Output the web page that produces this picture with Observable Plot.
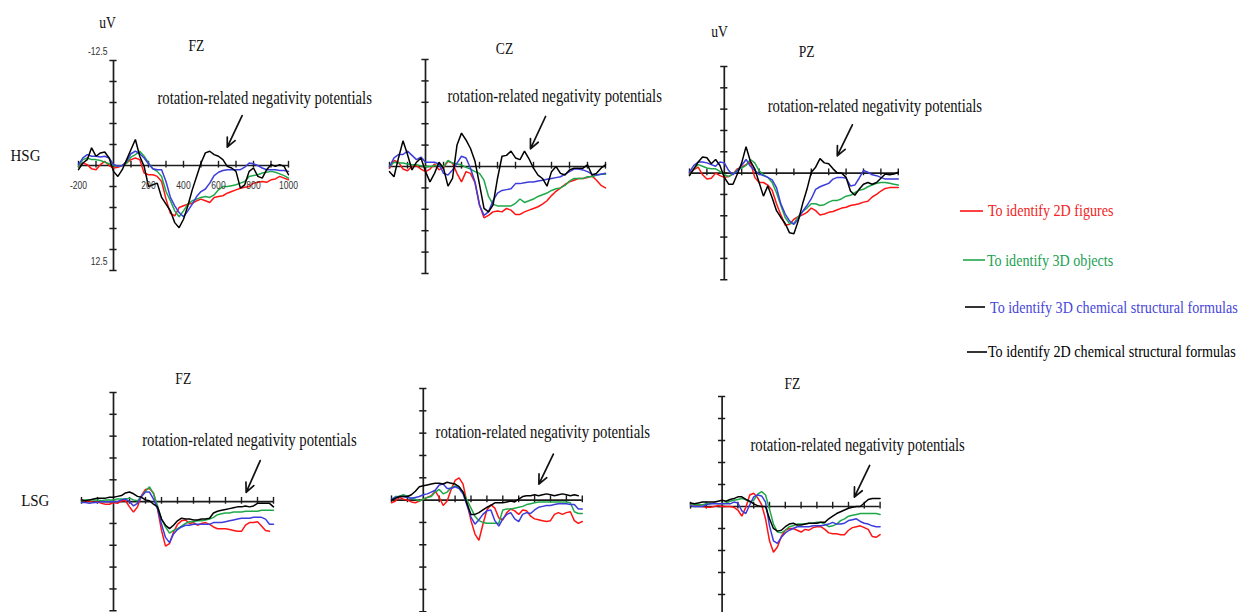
<!DOCTYPE html>
<html><head><meta charset="utf-8">
<script src="https://cdn.jsdelivr.net/npm/d3@7"></script>
<script src="https://cdn.jsdelivr.net/npm/@observablehq/plot@0.6"></script>
<style>
html,body{margin:0;padding:0;background:#fff;}
#chart{position:relative;width:1249px;height:612px;overflow:hidden;background:#fff;}
#chart svg{position:absolute;}
</style></head><body><div id="chart"></div>
<script>
// ---------- data ----------
const times = [-200,-175,-150,-125,-100,-75,-50,-25,0,25,50,75,100,125,150,175,200,225,250,275,300,325,350,375,400,425,450,475,500,525,550,575,600,625,650,675,700,725,750,775,800,825,850,875,900,925,950,975,1000];
const seriesNames = ["To identify 2D figures","To identify 3D objects","To identify 3D chemical structural formulas","To identify 2D chemical structural formulas"];
const seriesColors = ["#ff1414","#1fa84a","#3c3cdc","#000000"];
const legendLineColors = ["#ff1414","#1fa84a","#000000","#000000"];
const legendTextColors = ["#f02424","#22a052","#4646d8","#000000"];

// HSG FZ
const hsgFzRed   = [0.1,-0.3,-0.1,0.4,0.5,-0.1,-0.5,0, 0.3,0.2,0,-0.3,-0.7,-0.9,-0.7,0.9, 1.1,1.1,1.3,1.9,4.0,5.7,6.0,5.0, 4.8,4.6,4.5,4.2,4.0,4.2,4.4,3.8, 3.7,3.6,3.3,3.1,2.9,2.7,2.6,2.5, 2.1,2.0,1.9,2.0,1.7,1.6,1.3,1.5, 1.7];
const hsgFzGreen = [0.1,-0.7,-0.9,-0.7,-0.7,-0.6,-0.4,-0.2, 0,0.1,0,-0.3,-1.0,-1.3,-1.7,-1.1, -0.3,0.4,0.7,1.3,3.1,4.2,5.4,6.1, 5.4,4.6,4.2,4.0,3.8,3.7,3.8,3.5, 2.9,2.5,2.5,2.4,2.3,2.1,1.9,1.3, 1.2,1.1,0.9,0.8,0.7,0.8,1.0,1.2, 1.5];
const hsgFzBlue  = [-0.1,-0.9,-1.3,-1.1,-1.1,-1.0,-1.1,-0.9, -0.1,0.1,0,-0.5,-1.4,-1.7,-1.4,-0.9, -0.2,0.4,0.5,0.5,1.9,3.8,4.8,5.6, 6.1,5.4,4.6,3.7,3.1,2.8,2.1,1.2, 0.8,0.6,0.5,0.5,0.5,0.5,0.2,-0.3, -0.2,0,0.3,0.5,0.5,0.5,0.6,0.6, 0.7];
const hsgFzBlack = [0.5,-0.3,-0.7,-2.1,-1.1,-1.5,-1.6,-0.9, 0.7,1.3,0.5,-0.7,-1.9,-3.1,-1.1,0.1, 2.5,2.3,2.1,3.8,4.6,5.4,6.8,7.4, 6.4,4.8,2.9,1.3,-0.3,-1.5,-1.7,-1.3, -1.1,-0.7,0.1,0.3,0.7,2.7,2.3,0.7, 0.3,1.3,1.5,0.5,-0.1,0.1,-0.1,0.1, 1.1];
// HSG CZ
const hsgCzRed   = [0.2,-0.7,-0.5,0.3,0.5,0,-0.1,0.3, 0.6,0.3,-0.3,0.4,0.1,-0.6,-0.4,0.8, 1.8,0.6,0.8,1.9,4.5,6.0,5.7,5.3, 5.2,5.3,4.9,5.1,5.6,5.6,5.3,5.1, 4.9,4.7,4.4,4.0,3.4,2.9,2.5,2.1, 1.8,1.6,1.4,1.4,1.3,1.1,1.6,2.2, 2.5];
const hsgCzGreen = [0,-0.5,-0.4,-0.4,-0.3,-0.2,-0.2,-0.1, 0,0,-0.1,-0.2,0,-0.7,-0.4,-0.3, -0.2,0.1,0.3,0.6,0.8,1.6,3.5,4.4, 4.6,4.6,4.6,4.6,4.3,3.8,4.2,4.0, 3.8,3.5,3.3,3.1,2.8,2.6,2.5,2.2, 1.7,1.4,1.4,1.4,1.2,1.2,1.0,0.9, 0.9];
const hsgCzBlue  = [0,-1.0,-1.4,-1.4,-1.8,-1.3,-0.8,-1.1, -0.5,-0.5,-0.5,-0.3,0.8,1.0,0.4,-0.4, -1.2,-1.0,0.2,1.8,4.5,5.7,5.3,4.0, 3.1,2.8,2.7,2.6,2.0,2.0,1.9,1.8, 1.8,1.7,1.6,1.5,1.4,1.3,1.2,0.9, 0.6,0.3,0.3,0.4,0.6,0.9,1.0,0.9, 0.8];
const hsgCzBlack = [0.6,1.2,-1.0,-3.0,-1.4,0.4,-0.5,-1.0, 0.6,1.8,0.8,-0.5,0.2,2.3,1.4,-2.5, -3.9,-3.1,-2.1,-0.6,2.1,4.9,5.3,4.5, 1.4,-1.2,-1.3,-1.8,-1.0,-0.8,-1.8,-0.9, 0.2,1.0,1.4,2.3,0.6,0,0.8,1.0, 0.4,0.2,0.2,0.2,-0.2,1.0,0.8,0.2, -0.2];
// HSG PZ
const hsgPzRed   = [0,-0.4,-0.7,0.2,0.7,0.6,0,0.3, 0.5,0.4,0.1,-0.5,-0.7,-1.0,-1.3,0.5, 1.1,1.1,1.4,2.0,3.6,4.9,6.1,6.0, 5.4,5.1,4.9,4.6,4.1,4.4,4.9,4.8, 4.6,4.5,4.3,4.1,4.0,3.8,3.7,3.6, 3.4,3.3,2.8,2.5,2.1,1.8,1.7,1.7, 1.7];
const hsgPzGreen = [0.2,-0.5,-1.0,-0.8,-0.6,-0.5,-0.5,-0.2, 0.2,0.4,0.1,-0.4,-0.6,-0.9,-1.6,-1.2, -0.3,0.2,0.5,1.1,2.3,3.8,5.2,5.9, 5.9,5.1,4.5,4.1,3.6,3.6,3.8,3.7, 3.4,3.2,3.2,3.0,2.7,2.6,2.3,2.0, 1.9,1.6,1.4,1.2,1.1,1.1,1.2,1.3, 1.4];
const hsgPzBlue  = [-0.1,-0.9,-1.3,-1.3,-1.2,-1.0,-0.8,-1.3, -1.2,-0.3,0.2,-0.3,-0.9,-1.6,-0.8,-0.3, 0.1,0.3,0.5,0.8,1.7,3.6,4.8,5.6, 6.0,5.4,4.5,3.8,3.0,1.9,1.6,1.4, 1.2,0.7,0.5,0.5,0.6,1.5,1.4,0.6, -0.3,-0.1,0.2,0.3,0.5,0.7,0.7,0.7, 0.7];
const hsgPzBlack = [0.3,-0.5,-1.3,-1.9,-1.8,-1.1,-1.6,-0.9, 0.5,1.3,1.3,0.1,-1.2,-3.1,-1.4,-0.5, 1.1,2.7,1.5,2.9,4.4,5.2,5.9,7.0, 7.1,5.6,3.6,1.9,-0.1,-0.7,-1.7,-1.2, -1.1,-0.5,0,0,0.5,2.1,2.6,1.9, 1.3,1.1,1.3,1.1,0.6,0.1,0.2,0.1, -0.1];
// LSG left
const lsgFzRed   = [-0.2,0,-0.1,0.1,0,0.2,0.3,0.3, 0.1,0.2,-0.1,-0.1,0.6,1.2,0.6,-0.7, -1.4,-1.5,-1.0,0.8,3.3,5.1,4.8,3.5, 2.6,2.2,2.1,2.5,2.4,2.7,2.5,2.4, 2.6,2.9,3.1,3.1,3.1,3.2,3.3,3.4, 3.4,2.7,2.4,2.4,2.3,2.8,3.3,3.4, null];
const lsgFzGreen = [-0.1,-0.2,-0.2,-0.2,-0.2,-0.1,-0.2,-0.2, -0.2,-0.3,-0.3,-0.3,-0.4,-0.2,-0.1,-0.6, -1.2,-1.7,-0.9,0.5,2.0,2.9,3.6,3.3, 3.1,2.8,2.5,2.3,2.3,2.2,2.2,2.1, 2.0,1.8,1.5,1.4,1.3,1.3,1.2,1.2, 1.2,1.1,1.1,1.1,1.1,1.0,1.0,1.0, 1.0];
const lsgFzBlue  = [0.1,0.1,0.2,0.1,0.1,0,0,0, 0,0,-0.2,-0.3,0,0.5,0.2,-0.6, -1.1,-1.1,-0.3,0.8,2.6,4.1,4.7,3.7, 3.2,2.9,2.7,2.7,2.6,2.6,2.6,2.6, 2.6,2.4,2.4,2.4,2.3,2.2,2.1,2.0, 1.9,1.9,1.9,1.8,1.8,1.8,2.0,2.6, 2.6];
const lsgFzBlack = [-0.2,-0.1,-0.2,-0.3,-0.4,-0.4,-0.4,-0.5, -0.5,-0.6,-0.7,-1.0,-1.1,-0.9,-0.6,-0.5, -0.2,-0.1,0.3,0.6,2.0,2.7,3.1,2.7, 2.2,1.9,2.0,2.0,2.1,2.1,2.0,2.0, 1.9,1.3,1.1,1.0,0.9,0.8,0.7,0.6, 0.6,0.5,0.6,0.5,0.2,0.2,0.2,0.2, 0.6];
// LSG middle
const lsgCzRed   = [0.3,0.1,-0.3,-0.1,0,0.2,0.3,0.1, -0.1,-0.3,-0.5,-1.0,-0.3,0.6,0.1,-1.2, -2.2,-2.5,-1.8,0.3,2.3,3.8,4.5,2.7, 1.1,0.5,0.9,2.0,2.2,1.4,1.0,1.2, 1.6,1.1,1.2,1.8,2.1,2.2,2.3,2.4, 2.3,1.6,1.4,1.6,1.4,1.3,2.3,2.6, 2.4];
const lsgCzGreen = [0,-0.4,-0.4,-0.6,-0.4,-0.2,-0.1,0.1, -0.1,-0.3,-0.4,-0.9,-1.2,-0.7,-0.9,-1.4, -1.6,-1.4,-0.9,0,0.9,1.8,2.3,2.5, 2.6,2.6,2.6,2.6,1.1,1.0,1.0,0.9, 0.8,0.7,0.5,0.4,0.3,0.2,0.2,0.2, 0.2,0.2,0.2,0.2,0.2,0.3,1.3,1.5, 1.5];
const lsgCzBlue  = [-0.1,-0.3,-0.4,-0.4,-0.3,-0.2,-0.3,-0.4, -0.6,-0.7,-0.9,-1.1,-1.7,-1.8,-1.3,-1.3, -1.5,-1.3,-0.7,0.6,1.9,2.7,2.2,1.6, 1.2,1.1,2.3,2.9,2.1,1.6,1.4,2.1, 2.4,1.6,1.4,1.5,1.1,0.8,0.7,0.6, 0.6,0.5,0.4,0.4,0.4,0.5,0.5,1.0, 1.0];
const lsgCzBlack = [0,-0.2,-0.4,-0.4,-0.4,-0.6,-1.0,-1.5, -1.6,-1.7,-1.8,-1.9,-1.9,-1.8,-2.0,-1.9, -1.8,-1.5,-0.9,0.4,1.6,1.6,1.4,1.1, 0.8,0.6,0.3,0.3,0.3,0.2,0.1,0.2, -0.1,-0.4,-0.5,-0.5,-0.6,-0.5,-0.6,-0.7, -0.6,-0.5,-0.6,-0.7,-0.6,-0.5,-0.6,-0.5, null];
// LSG right
const lsgPzRed   = [-0.3,-0.2,-0.1,0,0.1,0.1,0,-0.1, 0,0,0,0.1,0.4,1.1,0.1,-1.3, -1.5,-1.0,-0.2,1.4,3.9,5.2,4.6,3.4, 2.7,2.5,2.5,2.7,2.9,2.6,2.7,2.4, 2.3,2.3,2.6,3.0,3.1,3.1,3.2,3.2, 2.7,2.4,2.3,2.2,2.4,2.6,3.4,3.5, 3.2];
const lsgPzGreen = [-0.3,-0.2,-0.2,-0.2,-0.3,-0.3,-0.4,-0.3, -0.3,-0.4,-0.6,-0.7,-0.8,-0.9,-0.8,-0.5, -0.7,-1.4,-1.7,-1.3,0.3,2.0,2.9,3.0, 2.7,2.3,2.2,2.0,2.0,2.0,1.9,1.9, 1.8,1.8,2.0,2.3,2.2,2.0,1.6,1.4, 1.1,1.0,0.9,0.8,0.8,0.8,0.8,0.8, 0.9];
const lsgPzBlue  = [-0.1,0,0,0,-0.2,-0.3,-0.3,-0.3, -0.3,-0.3,-0.3,-0.5,-0.4,0.5,0.8,-0.2, -1.1,-1.3,-1.2,-0.5,2.2,3.9,4.2,3.5, 3.0,2.7,2.5,2.3,2.3,2.3,2.3,2.2, 2.2,2.2,2.1,2.0,1.8,2.0,2.0,1.9, 1.6,1.5,1.4,1.7,1.9,2.0,2.2,2.3, 2.3];
const lsgPzBlack = [-0.4,-0.3,-0.4,-0.5,-0.5,-0.5,-0.5,-0.6, -0.7,-0.6,-0.8,-0.9,-1.1,-1.1,-0.8,-0.6, -0.3,-0.1,0,0,1.4,2.5,2.8,2.7, 2.3,2.0,1.9,2.1,2.1,2.0,1.9,1.9, 1.9,1.8,1.8,1.4,1.1,0.8,0.6,0.4, 0.2,0.1,0,0,-0.4,-0.8,-0.9,-0.9, -0.9];

const yTicks = [-12.5,-10,-7.5,-5,-2.5,0,2.5,5,7.5,10,12.5];
const xTicks = [-200,-100,100,200,300,400,500,600,700,800,900,1000];
const xTickLabels = [-200,200,400,600,800,1000];
const yTickLabels = [-12.5,12.5];
const noteText = "rotation-related negativity potentials";
const rowLabels = ["HSG","LSG"];
const unitLabel = "uV";

// ---------- layout (pixel frame + annotation anchors in data units) ----------
const serif = "'Liberation Serif','Times New Roman',serif";
const sans = "'Liberation Sans',Arial,sans-serif";
const panels = [
  {series:[hsgFzRed,hsgFzGreen,hsgFzBlue,hsgFzBlack], x0:113, k:0.175, zero:165, s:8.4, title:"FZ", titleAt:[474,-14.3], unitAt:[-34,-17.0], tickLabels:true, row:0, rowAt:[-503,-1.2], arrow:[735,-5.95,650,-2.18], noteAt:[251,-8.0]},
  {series:[hsgCzRed,hsgCzGreen,hsgCzBlue,hsgCzBlack], x0:425, k:0.18, zero:166, s:8.56, title:"CZ", titleAt:[439,-13.8], arrow:[667,-5.84,583,-2.07], noteAt:[122,-8.2]},
  {series:[hsgPzRed,hsgPzGreen,hsgPzBlue,hsgPzBlack], x0:723.7, k:0.174, zero:172.3, s:8.53, title:"PZ", titleAt:[473,-14.3], unitAt:[-27,-16.6], arrow:[736,-5.66,649,-2.03], noteAt:[249,-7.9]},
  {series:[lsgFzRed,lsgFzGreen,lsgFzBlue,lsgFzBlack], x0:113.3, k:0.16, zero:501, s:8.73, title:"FZ", titleAt:[436,-14.1], row:1, rowAt:[-489,-0.1], arrow:[917,-4.7,829,-1.07], noteAt:[179,-7.0]},
  {series:[lsgCzRed,lsgCzGreen,lsgCzBlue,lsgCzBlack], x0:422.7, k:0.159, zero:499.3, s:8.93, arrow:[818,-5.15,727,-1.79], noteAt:[77,-7.55]},
  {series:[lsgPzRed,lsgPzGreen,lsgPzBlue,lsgPzBlack], x0:721.7, k:0.158, zero:506, s:8.8, title:"FZ", titleAt:[445,-14.0], arrow:[934,-4.66,837,-1.06], noteAt:[179,-6.93]}
];

const chart = document.getElementById("chart");

// horizontally condense a text element about its own anchor (the source figure is narrow)
function condense(el, f) {
  const x = parseFloat(el.getAttribute("x")) || 0;
  const t = el.getAttribute("transform") || "";
  el.setAttribute("transform", `${t} translate(${x},0) scale(${f},1) translate(${-x},0)`.trim());
}
function condenseAll(svg) {
  svg.querySelectorAll("text").forEach(el => {
    const s = el.textContent;
    let f = 0.8;
    if (s === noteText) f = 0.82;
    else if (rowLabels.includes(s)) f = 0.88;
    else if (/^-?\d/.test(s)) f = 0.78;
    else if (seriesNames.includes(s)) f = 0.83;
    condense(el, f);
  });
}

for (const p of panels) {
  const {k, s} = p;
  const rows = [];
  p.series.forEach((arr, j) => arr.forEach((v, i) => { if (v != null) rows.push({t: times[i], v, series: seriesNames[j]}); }));
  const tk = 3.6 / k;
  const axisColor = "#1c1c1c";
  const marks = [
    Plot.ruleY([0], {x1: -200, x2: 1000, stroke: axisColor, strokeWidth: 1.7}),
    Plot.ruleX([0], {y1: -12.5, y2: 12.5, stroke: axisColor, strokeWidth: 1.7}),
    Plot.ruleY(yTicks, {x1: -tk, x2: tk, stroke: axisColor, strokeWidth: 1.5}),
    Plot.ruleX(xTicks, {y1: -4.2 / s, y2: 2.6 / s, stroke: axisColor, strokeWidth: 1.4}),
    Plot.line(rows, {x: "t", y: "v", z: "series", stroke: "series", strokeWidth: 1.5, strokeLinejoin: "miter"}),
    Plot.arrow([p.arrow], {x1: d => d[0], y1: d => d[1], x2: d => d[2], y2: d => d[3], stroke: "#111", strokeWidth: 1.7, headLength: 9, headAngle: 50}),
    Plot.text([noteText], {x: p.noteAt[0], y: p.noteAt[1], text: d => d, textAnchor: "start", fontSize: 18, fontFamily: serif, fill: "#111"})
  ];
  if (p.title) marks.push(Plot.text([p.title], {x: p.titleAt[0], y: p.titleAt[1], text: d => d, fontSize: 17, fontFamily: serif, fill: "#111"}));
  if (p.unitAt) marks.push(Plot.text([unitLabel], {x: p.unitAt[0], y: p.unitAt[1], text: d => d, fontSize: 17, fontFamily: serif, fill: "#111"}));
  if (p.row != null) marks.push(Plot.text([rowLabels[p.row]], {x: p.rowAt[0], y: p.rowAt[1], text: d => d, fontSize: 17, fontFamily: serif, fill: "#111"}));
  if (p.tickLabels) {
    marks.push(Plot.text(xTickLabels, {x: d => d, y: 0, dy: 20, text: d => String(d), fontSize: 11, fontFamily: sans, fill: "#333"}));
    marks.push(Plot.text(yTickLabels, {x: 0, y: d => d, dx: -6, dy: -9, textAnchor: "end", text: d => String(d), fontSize: 11, fontFamily: sans, fill: "#333"}));
  }
  const svg = Plot.plot({
    width: 1200 * k, height: 25 * s, margin: 0,
    x: {domain: [-200, 1000], axis: null},
    y: {domain: [12.5, -12.5], axis: null},
    color: {domain: seriesNames, range: seriesColors},
    style: "overflow: visible; background: none; max-width: none;",
    marks
  });
  svg.style.left = (p.x0 - 200 * k) + "px";
  svg.style.top = (p.zero - 12.5 * s) + "px";
  chart.appendChild(svg);
  condenseAll(svg);
}

// ---------- legend ----------
const legendLayout = [
  {x1: 960, x2: 983, y: 211, tx: 988, ty: 210},
  {x1: 963, x2: 985, y: 260, tx: 987, ty: 260},
  {x1: 965, x2: 985, y: 307, tx: 990, ty: 307},
  {x1: 967, x2: 987, y: 352, tx: 988, ty: 351}
];
const lg = d3.create("svg").attr("width", 1249).attr("height", 612).style("left", "0px").style("top", "0px").style("overflow", "visible");
seriesNames.forEach((name, i) => {
  const L = legendLayout[i];
  lg.append("line").attr("x1", L.x1).attr("x2", L.x2).attr("y1", L.y).attr("y2", L.y).attr("stroke", legendLineColors[i]).attr("stroke-width", 1.6);
  lg.append("text").attr("x", L.tx).attr("y", L.ty).attr("dominant-baseline", "central")
    .attr("font-family", serif).attr("font-size", 17).attr("fill", legendTextColors[i]).text(name);
});
chart.appendChild(lg.node());
condenseAll(lg.node());
</script></body></html>
